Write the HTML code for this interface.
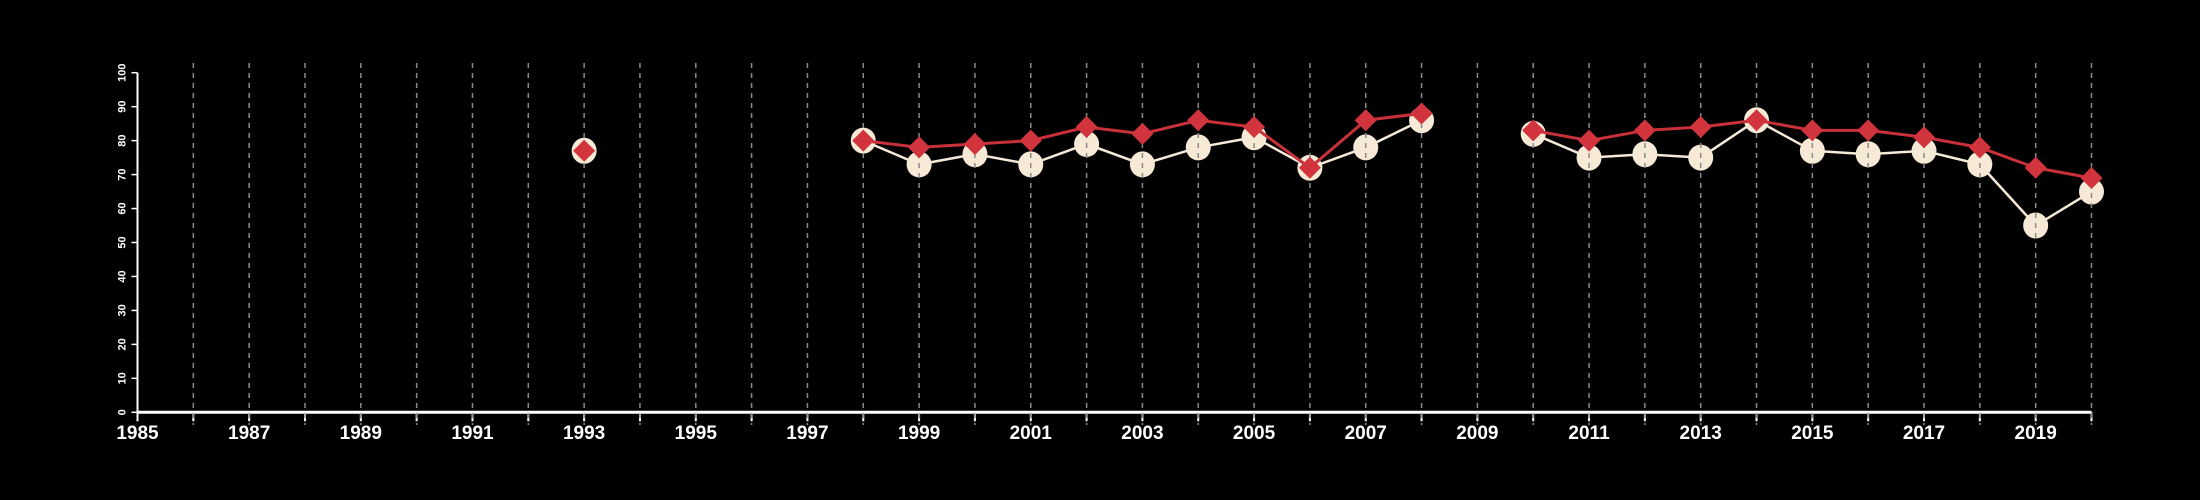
<!DOCTYPE html>
<html><head><meta charset="utf-8"><style>
html,body{margin:0;padding:0;background:#000;}
svg{display:block;}
</style></head><body>
<svg id="chart" width="2200" height="500" xmlns="http://www.w3.org/2000/svg" style="background:#000">
<g id="grid"></g>
<g id="axes"></g>
<g id="series"></g>
</svg>
<script>
const years = [1993,1998,1999,2000,2001,2002,2003,2004,2005,2006,2007,2008,2010,2011,2012,2013,2014,2015,2016,2017,2018,2019,2020];
const redValues = [77,80,78,79,80,84,82,86,84,72,86,88,83,80,83,84,86,83,83,81,78,72,69];
const whiteValues = [77,80,73,76,73,79,73,78,81,72,78,86,82,75,76,75,86,77,76,77,73,55,65];
const yTicks = [0,10,20,30,40,50,60,70,80,90,100];
const xLabels = [1985,1987,1989,1991,1993,1995,1997,1999,2001,2003,2005,2007,2009,2011,2013,2015,2017,2019];

const NS='http://www.w3.org/2000/svg';
const X0=137.5, X1=2091.5, Y0=412.3, Y1=72.7, YR0=1985, YR1=2020;
const xs = y => X0 + (y-YR0)*(X1-X0)/(YR1-YR0);
const ys = v => Y0 - v*(Y0-Y1)/100;
function mk(tag, attrs, parent){const e=document.createElementNS(NS,tag);for(const k in attrs)e.setAttribute(k,attrs[k]);parent.appendChild(e);return e;}
const grid=document.getElementById('grid'), axes=document.getElementById('axes'), series=document.getElementById('series');

let ax=mk('line',{x1:X0,y1:Y0,x2:X1,y2:Y0,stroke:'#fff','stroke-width':3},axes);


let ay=mk('line',{x1:X0,y1:Y0,x2:X0,y2:Y1,stroke:'#fff','stroke-width':2},axes);


for(const t of yTicks){
  mk('line',{x1:X0-6,y1:ys(t),x2:X0,y2:ys(t),stroke:'#fff','stroke-width':1.5},axes);
  const tx=mk('text',{x:0,y:0,transform:`translate(${X0-12},${ys(t)}) rotate(-90)`,'text-anchor':'middle',fill:'#fff','font-family':'Liberation Sans, sans-serif','font-size':11,'font-weight':'bold'},axes);
  tx.textContent=t;
  
  
}
for(let yr=YR0; yr<=YR1; yr++){
  mk('line',{x1:xs(yr),y1:Y0,x2:xs(yr),y2:Y0+9,stroke:'#fff','stroke-width':2},axes);
}
for(const l of xLabels){
  const tx=mk('text',{x:xs(l),y:439,'text-anchor':'middle',fill:'#fff','font-family':'Liberation Sans Narrow, Liberation Sans, sans-serif','font-size':19,'font-weight':'bold'},axes);
  tx.textContent=l;
  
  
}

function segs(vals){
  let out=[],cur=[];
  for(let i=0;i<years.length;i++){
    if(i>0 && years[i]-years[i-1]>1){out.push(cur);cur=[];}
    cur.push([xs(years[i]),ys(vals[i])]);
  }
  out.push(cur);return out;
}
for(const s of segs(whiteValues)){ if(s.length>1){
  const p=mk('polyline',{points:s.map(q=>q.join(',')).join(' '),fill:'none',stroke:'#f5ead8','stroke-width':2.5},series);
  
  
}}
for(let i=0;i<years.length;i++){
  const c=mk('ellipse',{cx:xs(years[i]),cy:ys(whiteValues[i]),rx:12.5,ry:13,fill:'#f6e9d6'},series);
  
  
}
for(let yr=YR0+1; yr<=YR1; yr++){
  const g=mk('line',{x1:xs(yr),y1:63,x2:xs(yr),y2:425,stroke:'#8a8a8a','stroke-width':1.5,'stroke-dasharray':'5,5'},series);
  
  
}
for(const s of segs(redValues)){ if(s.length>1){
  const p=mk('polyline',{points:s.map(q=>q.join(',')).join(' '),fill:'none',stroke:'#c8303a','stroke-width':3},series);
  
  
}}
for(let i=0;i<years.length;i++){
  const x=xs(years[i]), y=ys(redValues[i]), h=11;
  const d=mk('polygon',{points:`${x},${y-h} ${x+h},${y} ${x},${y+h} ${x-h},${y}`,fill:'#d1343c'},series);
  
  
}
</script>
</body></html>
